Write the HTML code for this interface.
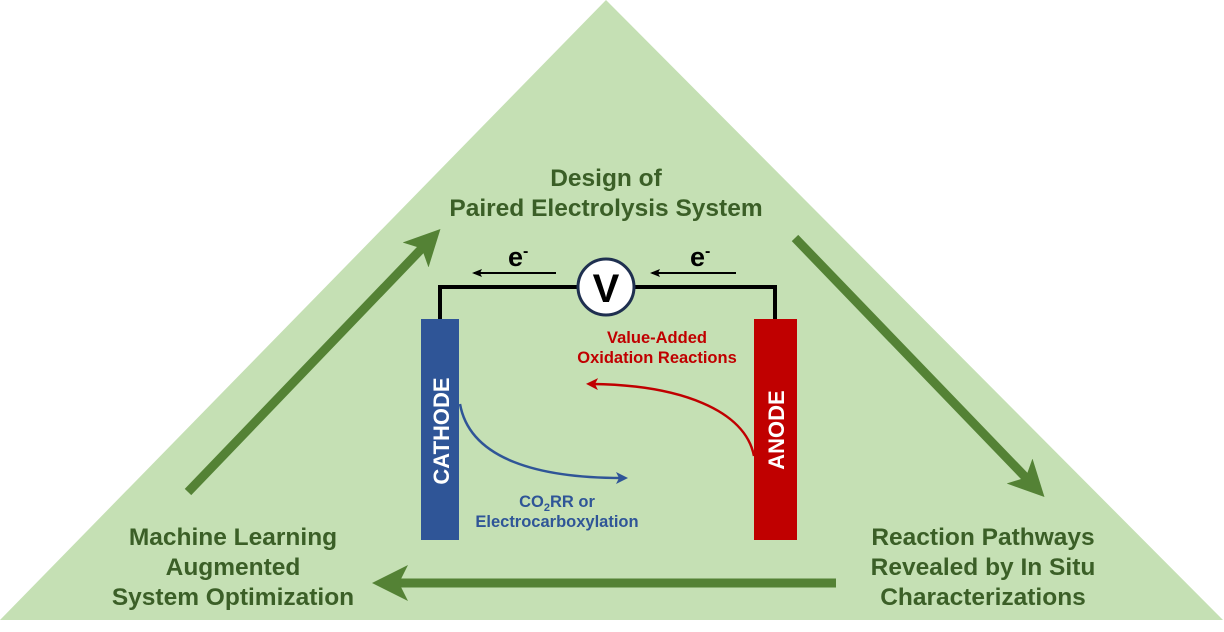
<!DOCTYPE html>
<html><head><style>
body{margin:0;background:#fff;width:1224px;height:627px;overflow:hidden}
svg text{font-family:"Liberation Sans",Arial,sans-serif;font-weight:bold}
</style></head><body>
<svg width="1224" height="627" viewBox="0 0 1224 627" xmlns="http://www.w3.org/2000/svg">
<defs>
<marker id="ga" markerWidth="4" markerHeight="4" refX="2" refY="2" orient="auto" markerUnits="strokeWidth"><path d="M0,0 L4,2 L0,4 L1,2 Z" fill="#548235"/></marker>
<marker id="ka" markerWidth="10" markerHeight="8" refX="8" refY="4" orient="auto" markerUnits="userSpaceOnUse"><path d="M0,0 L10,4 L0,8 L2,4Z" fill="#000"/></marker>
<marker id="ra" markerWidth="12" markerHeight="12" refX="6" refY="6" orient="auto" markerUnits="userSpaceOnUse"><path d="M0,0 L12,6 L0,12 L3,6Z" fill="#c00000"/></marker>
<marker id="ba" markerWidth="12" markerHeight="12" refX="6" refY="6" orient="auto" markerUnits="userSpaceOnUse"><path d="M0,0 L12,6 L0,12 L3,6Z" fill="#2f5597"/></marker>
</defs>
<polygon points="606,0 1223,620 0,620" fill="#c5e0b4"/>
<line x1="188" y1="492" x2="428" y2="242" stroke="#548235" stroke-width="9" marker-end="url(#ga)"/>
<line x1="795" y1="238" x2="1032" y2="484" stroke="#548235" stroke-width="9" marker-end="url(#ga)"/>
<line x1="836" y1="583" x2="390" y2="583" stroke="#548235" stroke-width="9" marker-end="url(#ga)"/>
<g fill="#3b5f27" font-size="24.5" text-anchor="middle">
<text x="606" y="186">Design of</text>
<text x="606" y="216">Paired Electrolysis System</text>
<text x="233" y="545">Machine Learning</text>
<text x="233" y="575">Augmented</text>
<text x="233" y="605">System Optimization</text>
<text x="983" y="545">Reaction Pathways</text>
<text x="983" y="575">Revealed by In Situ</text>
<text x="983" y="605">Characterizations</text>
</g>
<polyline points="440,320 440,287 775,287 775,320" fill="none" stroke="#000" stroke-width="4"/>
<circle cx="606" cy="287" r="28" fill="#fff" stroke="#1f3050" stroke-width="3"/>
<text x="606" y="302" font-size="40" text-anchor="middle" fill="#000">V</text>
<line x1="556" y1="273" x2="474" y2="273" stroke="#000" stroke-width="2" marker-end="url(#ka)"/>
<line x1="736" y1="273" x2="652" y2="273" stroke="#000" stroke-width="2" marker-end="url(#ka)"/>
<text x="508" y="266" font-size="27" fill="#000">e<tspan font-size="16" dy="-10">-</tspan></text>
<text x="690" y="266" font-size="27" fill="#000">e<tspan font-size="16" dy="-10">-</tspan></text>
<rect x="421" y="319" width="38" height="221" fill="#2f5597"/>
<rect x="754" y="319" width="43" height="221" fill="#c00000"/>
<text transform="translate(449,431) rotate(-90)" font-size="22" fill="#fff" text-anchor="middle">CATHODE</text>
<text transform="translate(784,430) rotate(-90)" font-size="22" fill="#fff" text-anchor="middle">ANODE</text>
<path d="M460,404 C470,460 540,478 622,478" fill="none" stroke="#2f5597" stroke-width="2.5" marker-end="url(#ba)"/>
<path d="M754,456 C745,410 680,385 592,384" fill="none" stroke="#c00000" stroke-width="2.5" marker-end="url(#ra)"/>
<g font-size="16.5" text-anchor="middle">
<text x="657" y="343" fill="#c00000">Value-Added</text>
<text x="657" y="363" fill="#c00000">Oxidation Reactions</text>
<text x="557" y="507" fill="#2f5597">CO<tspan font-size="11" dy="4">2</tspan><tspan dy="-4">RR or</tspan></text>
<text x="557" y="527" fill="#2f5597">Electrocarboxylation</text>
</g>
</svg>
</body></html>
